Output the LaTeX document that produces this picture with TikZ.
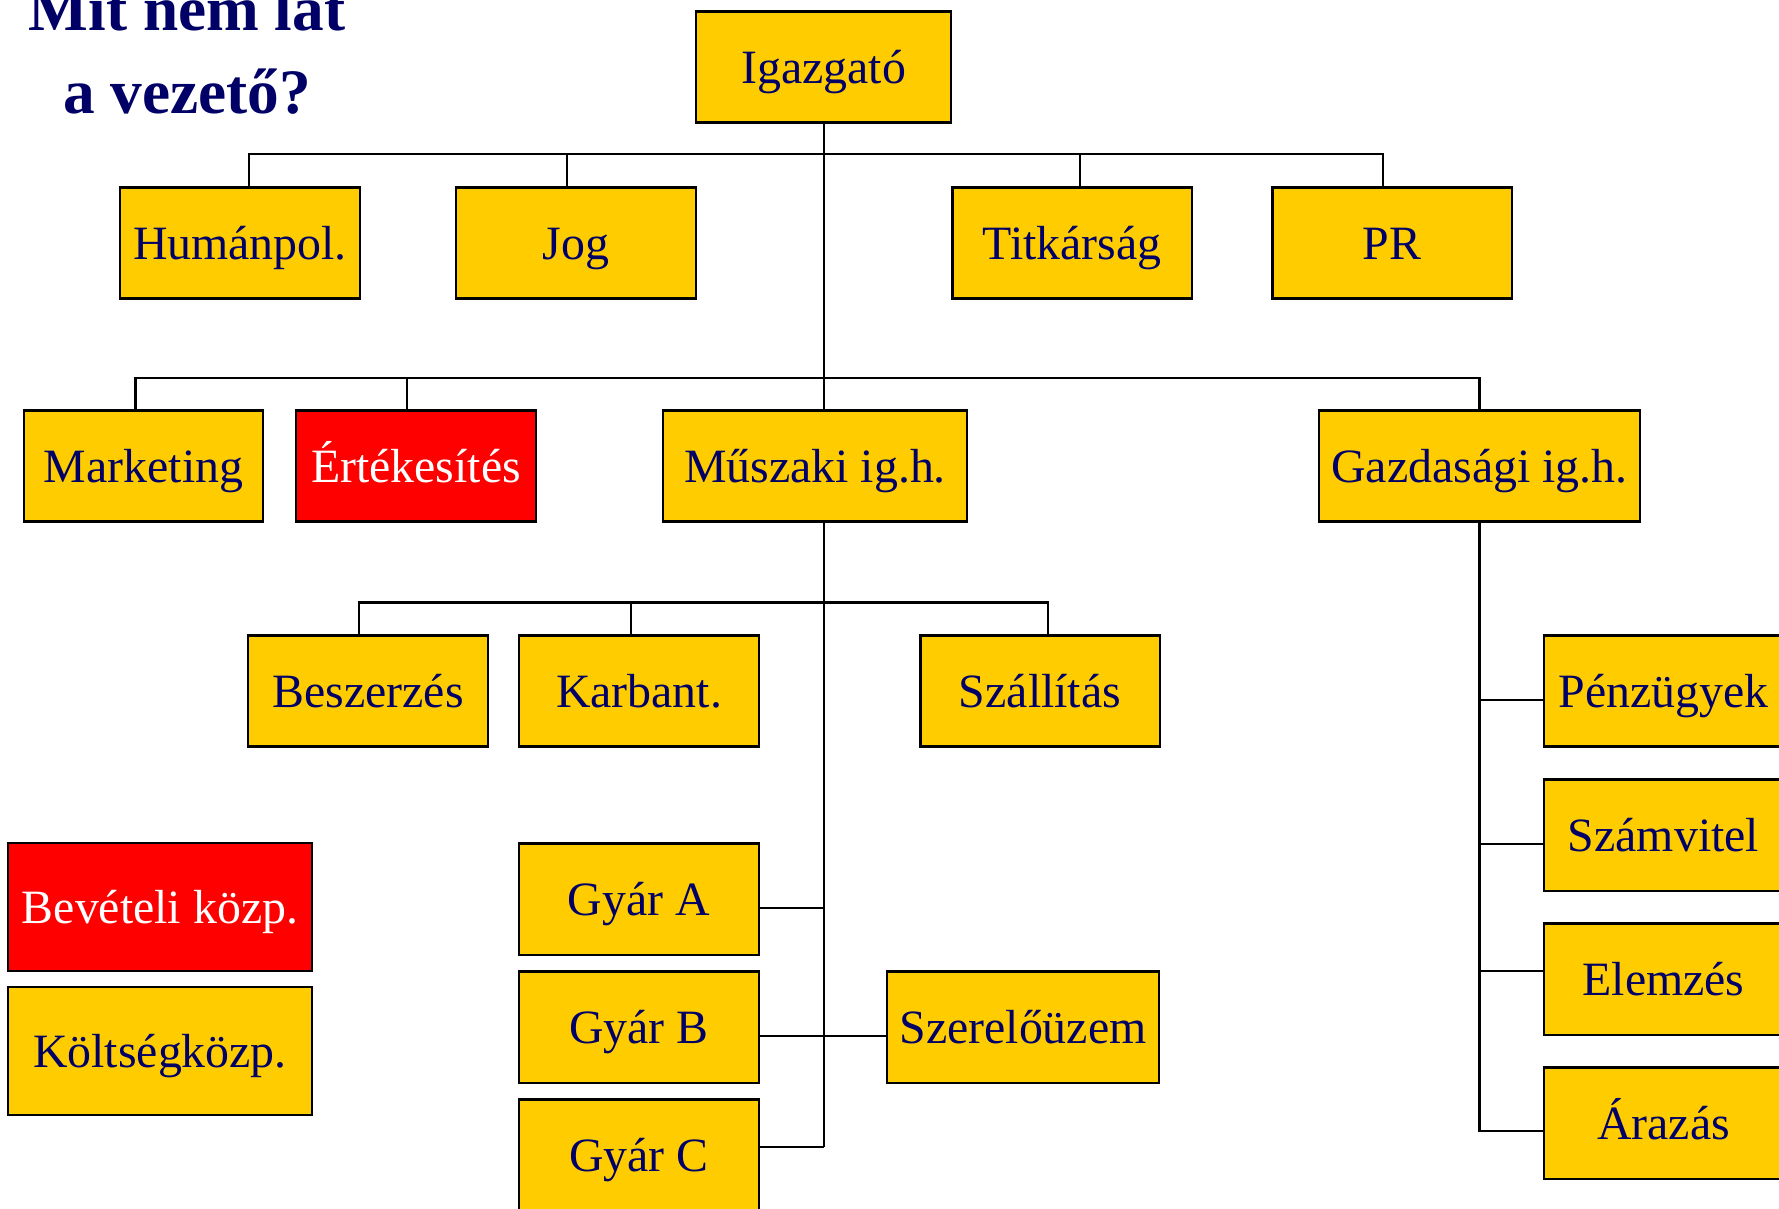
\documentclass[tikz,border=0pt]{standalone}
\usepackage{fontspec}
\setmainfont{Liberation Serif}
\usepackage{tikz}
\definecolor{sarga}{HTML}{FFCC00}
\definecolor{piros}{HTML}{FF0000}
\definecolor{sotetkek}{HTML}{000066}

\begin{document}
\begin{tikzpicture}[x=0.01cm,y=-0.01cm,
    egyseg/.style={draw=black,line width=0.6pt,fill=sarga,text=sotetkek,
      minimum width=2.39cm,minimum height=1.11cm,inner sep=0pt,
      text height=1.0em,text depth=0.05em,
      font=\fontsize{13.6}{16}\selectfont},
    kiemelt/.style={egyseg,fill=piros,text=white},
    vonal/.style={line width=0.6pt}]
    \useasboundingbox (0,0) rectangle (1779,1208);
    \node[align=center,text=sotetkek,font=\fontsize{18}{23.6}\selectfont\bfseries] (cim) at (187,50) {Mit nem lát\\a vezető?};
    \node[egyseg,minimum width=2.55cm] (igazgato) at (823.7,67) {Igazgató};
    \node[egyseg] (human) at (240,243) {Humánpol.};
    \node[egyseg] (jog) at (576,243) {Jog};
    \node[egyseg] (titkar) at (1072,243) {Titkárság};
    \node[egyseg] (pr) at (1392,243) {PR};
    \node[egyseg] (marketing) at (143.5,466) {Marketing};
    \node[kiemelt] (ertekesites) at (416,466) {Értékesítés};
    \node[egyseg,minimum width=3.03cm] (muszaki) at (815,466) {Műszaki ig.h.};
    \node[egyseg,minimum width=3.2cm] (gazdasagi) at (1479.5,466) {Gazdasági ig.h.};
    \node[egyseg] (beszerzes) at (368,691) {Beszerzés};
    \node[egyseg] (karbant) at (639,691) {Karbant.};
    \node[egyseg] (szallitas) at (1040,691) {Szállítás};
    \node[egyseg] (gyarA) at (639,899) {Gyár A};
    \node[egyseg] (gyarB) at (639,1027) {Gyár B};
    \node[egyseg] (gyarC) at (639,1155) {Gyár C};
    \node[egyseg,minimum width=2.72cm] (szerelo) at (1023,1027) {Szerelőüzem};
    \node[egyseg] (penzugy) at (1663.5,691) {Pénzügyek};
    \node[egyseg] (szamvitel) at (1663.5,835) {Számvitel};
    \node[egyseg] (elemzes) at (1663.5,979) {Elemzés};
    \node[egyseg] (arazas) at (1663.5,1123) {Árazás};
    % jelmagyarazat
    \node[kiemelt,minimum width=3.04cm,minimum height=1.28cm] (beveteli) at (160,907) {Bevételi közp.};
    \node[egyseg,minimum width=3.04cm,minimum height=1.28cm] (koltseg) at (160,1051) {Költségközp.};
    \coordinate (sin1) at (823.7,154.3);
    \coordinate (sin2) at (823.7,377.8);
    \coordinate (sin3) at (823.7,602.5);
    \draw[vonal] (igazgato.south) -- (sin1) -- (sin2) -- (sin2 |- muszaki.north);
    \draw[vonal] ([xshift=0.09cm]human.north) |- (sin1) -| ([xshift=-0.09cm]pr.north);
    \draw[vonal] ([xshift=-0.09cm]jog.north) |- (sin1) -| ([xshift=0.08cm]titkar.north);
    \draw[vonal] ([xshift=-0.08cm]marketing.north) |- (sin2) -| (gazdasagi.north);
    \draw[vonal] ([xshift=-0.09cm]ertekesites.north) |- (sin2);
    \draw[vonal] (muszaki.south -| sin3) -- (sin3) -- ([yshift=0.08cm]sin3 |- gyarC.east);
    \draw[vonal] ([xshift=-0.09cm]beszerzes.north) |- (sin3) -| ([xshift=0.08cm]szallitas.north);
    \draw[vonal] ([xshift=-0.08cm]karbant.north) |- (sin3);
    \draw[vonal] ([yshift=-0.09cm]gyarA.east) -- ([yshift=-0.09cm]gyarA.east -| sin3);
    \draw[vonal] ([yshift=-0.09cm]gyarB.east) -- ([yshift=-0.09cm]szerelo.west);
    \draw[vonal] ([yshift=0.08cm]gyarC.east) -- ([yshift=0.08cm]gyarC.east -| sin3);
    \draw[vonal] (gazdasagi.south) -- ([yshift=-0.08cm]gazdasagi.south |- arazas.west) -- ([yshift=-0.08cm]arazas.west);
    \foreach \d/\s in {penzugy/-0.09,szamvitel/-0.09,elemzes/0.08}
        \draw[vonal] ([yshift=\s cm]\d.west) -- ([yshift=\s cm]\d.west -| gazdasagi.south);
\end{tikzpicture}
\end{document}
